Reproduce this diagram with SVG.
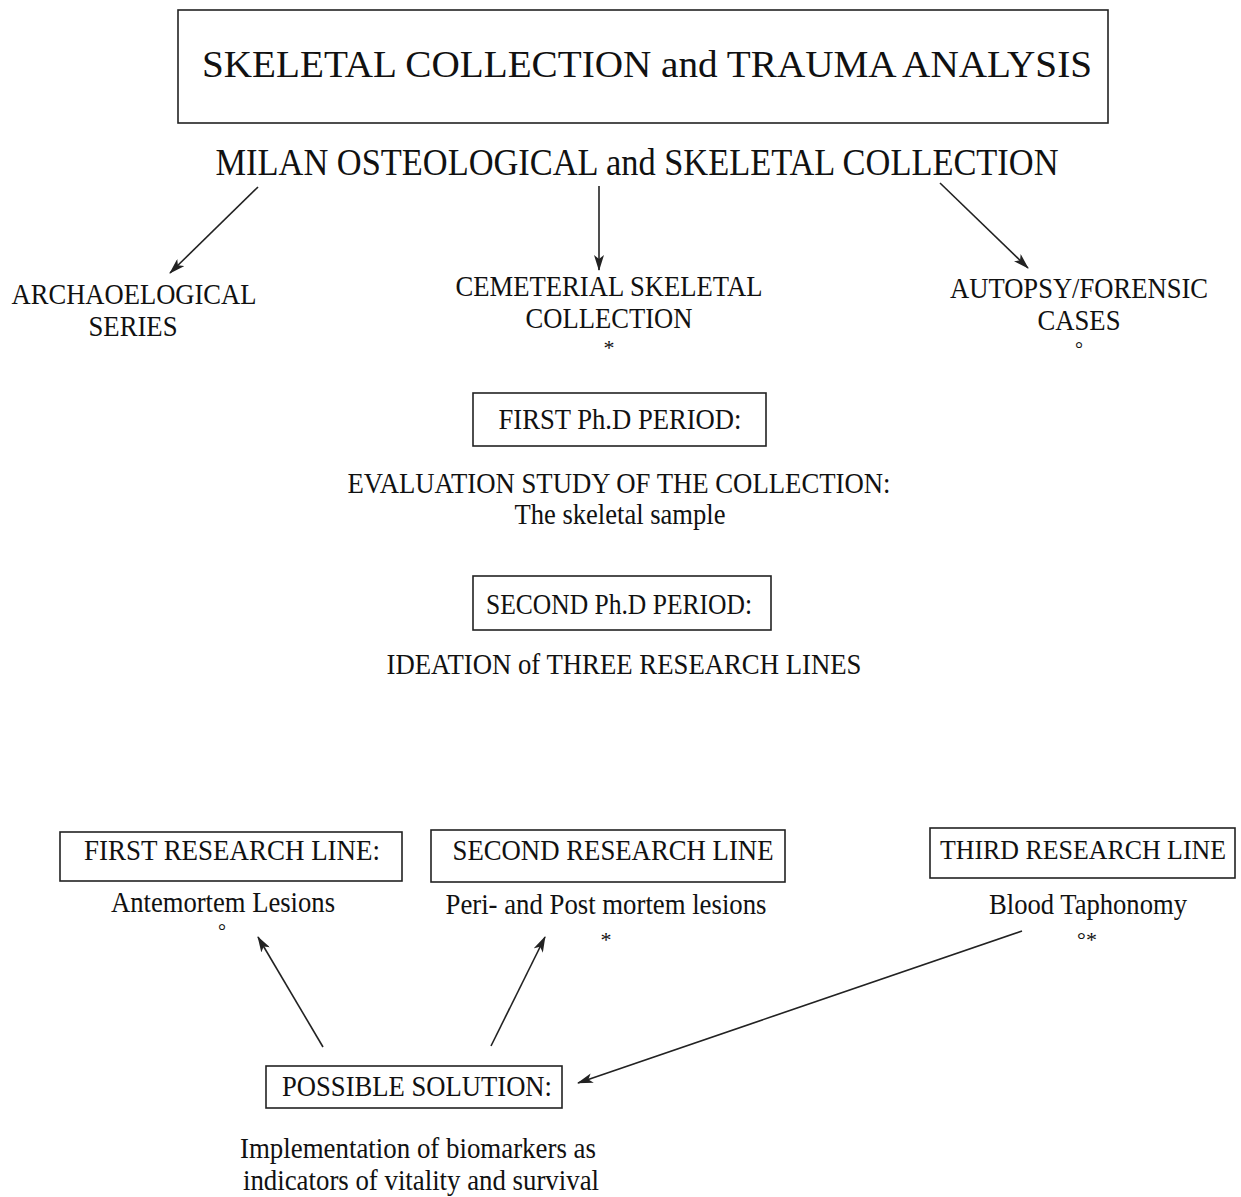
<svg xmlns="http://www.w3.org/2000/svg" width="1241" height="1197" viewBox="0 0 1241 1197">
<style>
text{font-family:"Liberation Serif","Times New Roman",serif;fill:#111;text-anchor:middle}
.box{fill:#fff;stroke:#222;stroke-width:1.6}
.t{font-size:29px}
.c{stroke:#222;stroke-width:1.6;fill:none;marker-end:url(#ah)}
</style>
<defs>
<marker id="ah" markerWidth="16" markerHeight="10" refX="15" refY="5" orient="auto" markerUnits="userSpaceOnUse">
<path d="M0,0 L16,5 L0,10 L4,5 Z" fill="#222"/>
</marker>
</defs>
<rect width="1241" height="1197" fill="#fff"/>
<g id="title">
<rect class="box" x="178" y="10" width="930" height="113"/>
<text x="647" y="77" font-size="38" textLength="890" lengthAdjust="spacingAndGlyphs">SKELETAL COLLECTION and TRAUMA ANALYSIS</text>
</g>
<g id="milan">
<text x="637" y="175" font-size="37" textLength="843" lengthAdjust="spacingAndGlyphs">MILAN OSTEOLOGICAL and SKELETAL COLLECTION</text>
</g>
<g id="archaeological">
<text class="t" x="134" y="304" textLength="245" lengthAdjust="spacingAndGlyphs">ARCHAOELOGICAL</text>
<text class="t" x="133" y="336" textLength="89" lengthAdjust="spacingAndGlyphs">SERIES</text>
</g>
<g id="cemeterial">
<text class="t" x="609" y="296" textLength="307" lengthAdjust="spacingAndGlyphs">CEMETERIAL SKELETAL</text>
<text class="t" x="609" y="328" textLength="167" lengthAdjust="spacingAndGlyphs">COLLECTION</text>
<text x="609" y="355" font-size="22">*</text>
</g>
<g id="autopsy">
<text class="t" x="1079" y="298" textLength="258" lengthAdjust="spacingAndGlyphs">AUTOPSY/FORENSIC</text>
<text class="t" x="1079" y="330" textLength="83" lengthAdjust="spacingAndGlyphs">CASES</text>
<text x="1079" y="356" font-size="20">°</text>
</g>
<g id="first-period">
<rect class="box" x="473" y="393" width="293" height="53"/>
<text class="t" x="620" y="429" textLength="243" lengthAdjust="spacingAndGlyphs">FIRST Ph.D PERIOD:</text>
<text class="t" x="619" y="493" textLength="543" lengthAdjust="spacingAndGlyphs">EVALUATION STUDY OF THE COLLECTION:</text>
<text class="t" x="620" y="524" textLength="211" lengthAdjust="spacingAndGlyphs">The skeletal sample</text>
</g>
<g id="second-period">
<rect class="box" x="473" y="576" width="298" height="54"/>
<text class="t" x="619" y="614" textLength="266" lengthAdjust="spacingAndGlyphs">SECOND Ph.D PERIOD:</text>
<text class="t" x="624" y="674" textLength="475" lengthAdjust="spacingAndGlyphs">IDEATION of THREE RESEARCH LINES</text>
</g>
<g id="first-line">
<rect class="box" x="60" y="832" width="342" height="49"/>
<text class="t" x="232" y="860" textLength="296" lengthAdjust="spacingAndGlyphs">FIRST RESEARCH LINE:</text>
<text class="t" x="223" y="912" textLength="224" lengthAdjust="spacingAndGlyphs">Antemortem Lesions</text>
<text x="222" y="938" font-size="20">°</text>
</g>
<g id="second-line">
<rect class="box" x="431" y="830" width="354" height="52"/>
<text class="t" x="613" y="860" textLength="321" lengthAdjust="spacingAndGlyphs">SECOND RESEARCH LINE</text>
<text class="t" x="606" y="914" textLength="321" lengthAdjust="spacingAndGlyphs">Peri- and Post mortem lesions</text>
<text x="606" y="947" font-size="22">*</text>
</g>
<g id="third-line">
<rect class="box" x="930" y="828" width="305" height="50"/>
<text x="1083" y="859" font-size="27" textLength="286" lengthAdjust="spacingAndGlyphs">THIRD RESEARCH LINE</text>
<text class="t" x="1088" y="914" textLength="198" lengthAdjust="spacingAndGlyphs">Blood Taphonomy</text>
<text x="1087" y="947" font-size="22">°*</text>
</g>
<g id="solution">
<rect class="box" x="266" y="1066" width="296" height="42"/>
<text class="t" x="417" y="1096" textLength="270" lengthAdjust="spacingAndGlyphs">POSSIBLE SOLUTION:</text>
<text class="t" x="418" y="1158" textLength="356" lengthAdjust="spacingAndGlyphs">Implementation of biomarkers as</text>
<text class="t" x="421" y="1190" textLength="356" lengthAdjust="spacingAndGlyphs">indicators of vitality and survival</text>
</g>
<g id="connectors">
<line class="c" x1="258" y1="187" x2="170" y2="273"/>
<line class="c" x1="599" y1="186" x2="599" y2="270"/>
<line class="c" x1="940" y1="183" x2="1028" y2="268"/>
<line class="c" x1="323" y1="1047" x2="258" y2="937"/>
<line class="c" x1="491" y1="1046" x2="545" y2="937"/>
<line class="c" x1="1022" y1="931" x2="578" y2="1083"/>
</g>
</svg>
